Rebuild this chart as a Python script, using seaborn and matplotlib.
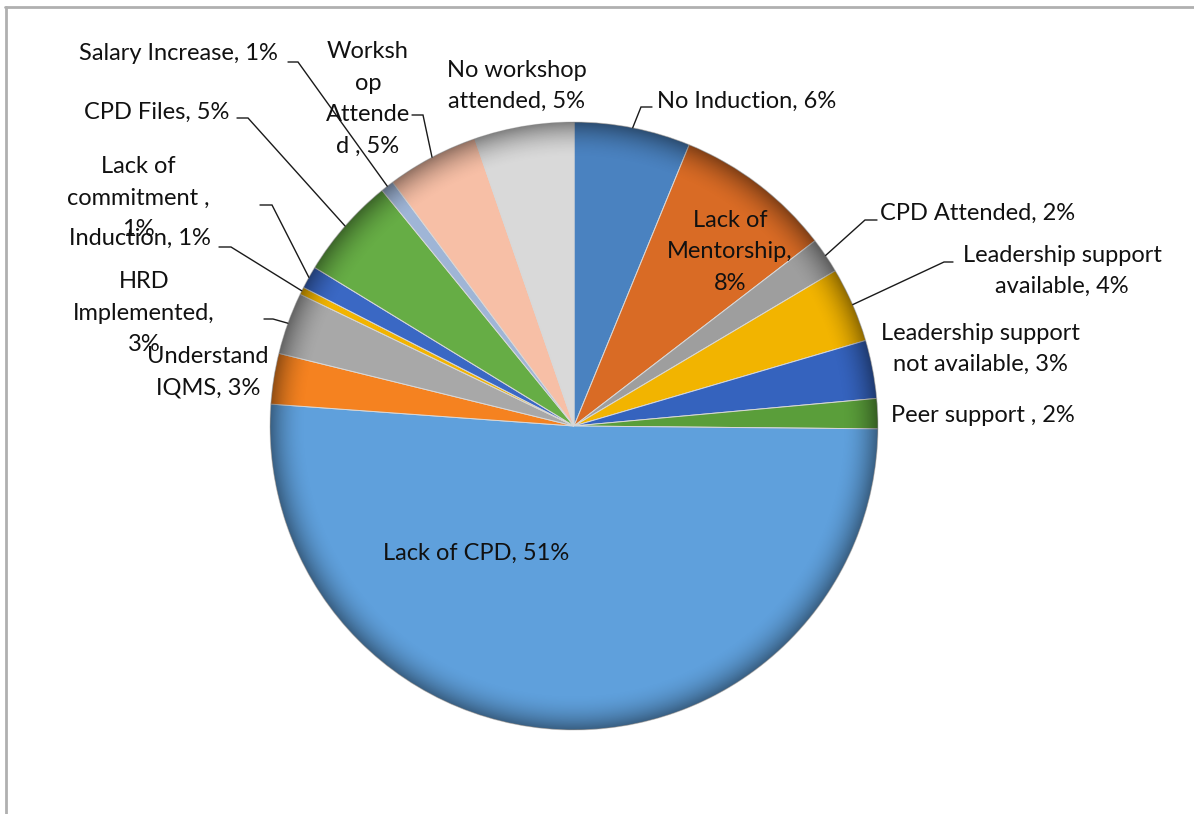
import numpy as np
import matplotlib
matplotlib.use("Agg")
import matplotlib.pyplot as plt
import seaborn as sns
from matplotlib.patches import Circle

# ---------------- data ----------------
categories = ["No Induction", "Lack of Mentorship", "CPD Attended",
              "Leadership support available", "Leadership support not available",
              "Peer support", "Lack of CPD", "Understand IQMS", "HRD Implemented",
              "Induction", "Lack of commitment", "CPD Files", "Salary Increase",
              "Workshop Attended", "No workshop attended"]
values = [6.2, 8.4, 1.9, 4.0, 3.1, 1.6, 51.1, 2.7, 3.3, 0.4, 1.2, 5.4, 0.7, 4.9, 5.3]
label_text = ["No Induction, 6%", "Lack of\nMentorship,\n8%", "CPD Attended, 2%",
              "Leadership support\navailable, 4%", "Leadership support\nnot available, 3%",
              "Peer support , 2%", "Lack of CPD, 51%", "Understand\nIQMS, 3%",
              "HRD\nImplemented,\n3%", "Induction, 1%", "Lack of\ncommitment ,\n1%",
              "CPD Files, 5%", "Salary Increase, 1%", "Worksh\nop\nAttende\nd , 5%",
              "No workshop\nattended, 5%"]
colors = ["#4a82c0", "#d96b25", "#9e9e9e", "#f2b400", "#3563be", "#5a9e3a",
          "#5fa0dc", "#f58220", "#a8a8a8", "#f2b400", "#3a68c4", "#66ad45",
          "#9fb5d6", "#f7bfa6", "#d9d9d9"]

# ---------------- layout (image pixel coords, y down) ----------------
W, H = 1194, 814
CX, CY, R = 574, 426, 304
label_pos = [(657, 101, "left"), (730, 252, "center"), (880, 213, "left"),
             (1062, 271, "center"), (980, 349, "center"), (891, 416, "left"),
             (476, 553, "center"), (208, 372, "center"), (144, 313, "center"),
             (140, 238, "center"), (138, 198, "center"), (157, 112, "center"),
             (178, 53, "center"), (368, 99, "center"), (517, 86, "center")]
leaders = [((641, 107), (652, 107)), None, ((865, 220), (877, 220)),
           ((944, 262), (953, 262)), None, None, None, None,
           ((273, 319), (264, 319)), ((231, 247), (219, 247)),
           ((272, 205), (260, 205)), ((248, 118), (237, 118)),
           ((298, 62), (288, 62)), ((423, 115), (412, 115)), None]

sns.set_theme(style="white")
plt.rcParams["font.family"] = ["Lato", "DejaVu Sans"]

fig = plt.figure(figsize=(W / 100, H / 100), dpi=100)
ax = fig.add_axes([0, 0, 1, 1])
ax.set_xlim(0, W)
ax.set_ylim(0, H)
ax.set_aspect("equal")
ax.axis("off")

def Y(y):
    return H - y

wedges, _ = ax.pie(values, colors=colors, startangle=90, counterclock=False,
                   center=(CX, Y(CY)), radius=R, frame=True,
                   wedgeprops=dict(edgecolor="#d8d8d8", linewidth=0.7))
ax.set_xlim(0, W)
ax.set_ylim(0, H)
ax.axis("off")

# soft darker rim to mimic the bevel shading
n = 400
xs = np.linspace(CX - R, CX + R, n)
ys = np.linspace(Y(CY) - R, Y(CY) + R, n)
XX, YY = np.meshgrid(xs, ys)
rr = np.hypot(XX - CX, YY - Y(CY)) / R
alpha = np.clip((rr - 0.88) / 0.12, 0, 1) ** 2 * 0.4
shade = np.zeros((n, n, 4))
shade[..., 3] = alpha
im = ax.imshow(shade, extent=(CX - R, CX + R, Y(CY) - R, Y(CY) + R),
               origin="lower", zorder=3, interpolation="bilinear")
im.set_clip_path(Circle((CX, Y(CY)), R, transform=ax.transData))

# labels and leader lines
for w, txt, (lx, ly, ha), ld in zip(wedges, label_text, label_pos, leaders):
    ax.text(lx, Y(ly), txt, ha=ha, va="center", multialignment="center",
            fontsize=17, color="#111111", linespacing=1.62, zorder=6)
    if ld is not None:
        mid = np.deg2rad((w.theta1 + w.theta2) / 2)
        ex, ey = CX + R * np.cos(mid), Y(CY) + R * np.sin(mid)
        (bx, by), (tx, ty) = ld
        ax.plot([ex, bx, tx], [ey, Y(by), Y(ty)], color="#1a1a1a", lw=1.0,
                zorder=5, solid_joinstyle="miter")

# chart frame (top and left borders visible)
ax.plot([5, W], [Y(7), Y(7)], color="#b0b0b0", lw=2, zorder=1)
ax.plot([6, 6], [Y(7), 0], color="#b0b0b0", lw=2, zorder=1)

fig.savefig("out.png", dpi=100, facecolor="white")
